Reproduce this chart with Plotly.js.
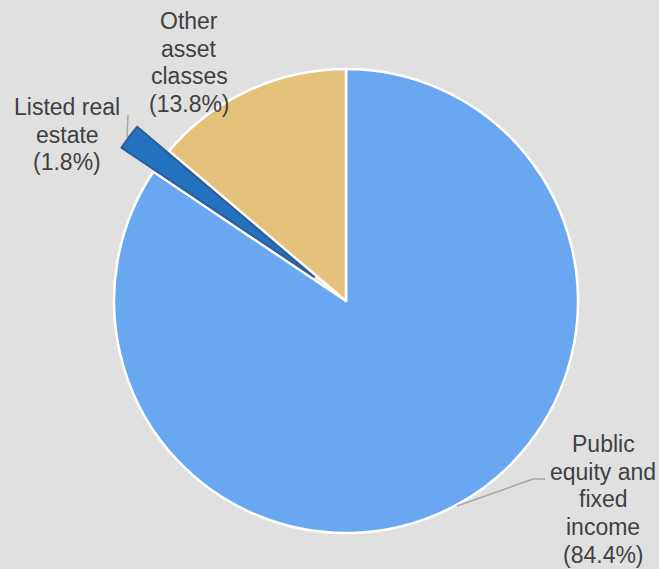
<!DOCTYPE html>
<html>
<head>
<meta charset="utf-8">
<script src="https://cdn.plot.ly/plotly-3.0.1.min.js"></script>
<style>html,body{margin:0;padding:0;background:#e0e0e0;}#chart{width:659px;height:569px;}</style>
</head>
<body>
<div id="chart"></div>
<script>
const categories = ["Public equity and fixed income", "Listed real estate", "Other asset classes"];
const labelLines = [["Public", "equity and", "fixed", "income"], ["Listed real", "estate"], ["Other", "asset", "classes"]];
const values = [84.4, 1.8, 13.8];
const sliceColors = ["#69a8f0", "#2372c0", "#e4c27c"];
const outlineColors = ["#ffffff", "#2f5b94", "#ffffff"];
const exploded = [false, true, false];

// geometry (pixels)
const W = 659, H = 569;
const cx = 346, cy = 301, R = 232;
const explodeDist = 40;

// label anchor: center x and first baseline y (pixels)
const labelPos = [
  {x: 603, y: 452},
  {x: 67, y: 115},
  {x: 189, y: 29}
];
const lineGap = 27.7;
const fontSize = 23;

function px(x){return x/W;}
function py(y){return 1 - y/H;}
function domainAt(x, y){
  return {x: [px(x - R), px(x + R)], y: [py(y + R), py(y - R)]};
}

const T = "rgba(0,0,0,0)";
// base pie: non-exploded slices
const baseTrace = {
  type: "pie", labels: categories, values: values, sort: false,
  direction: "clockwise", rotation: 0, textinfo: "none", hoverinfo: "skip",
  marker: {
    colors: sliceColors.map((c, i) => exploded[i] ? T : c),
    line: {color: outlineColors.map((c, i) => exploded[i] ? T : c), width: exploded.map(e => e ? 0 : 2.5)}
  },
  domain: domainAt(cx, cy), showlegend: false
};

// exploded slice: compute its mid angle from the data to offset its pie
const total = values.reduce((a, b) => a + b, 0);
const traces = [baseTrace];
let cum = 0;
values.forEach((v, i) => {
  const mid = (cum + v / 2) / total * 2 * Math.PI;
  cum += v;
  if (!exploded[i]) return;
  const ox = Math.sin(mid) * explodeDist, oy = -Math.cos(mid) * explodeDist;
  traces.push({
    type: "pie", labels: categories, values: values, sort: false,
    direction: "clockwise", rotation: 0, textinfo: "none", hoverinfo: "skip",
    marker: {
      colors: sliceColors.map((c, j) => j === i ? c : T),
      line: {color: outlineColors.map((c, j) => j === i ? c : T), width: values.map((_, j) => j === i ? 2 : 0)}
    },
    domain: domainAt(cx + ox, cy + oy), showlegend: false
  });
});

const annotations = [];
categories.forEach((c, i) => {
  const lines = labelLines[i].concat(["(" + values[i].toFixed(1) + "%)"]);
  lines.forEach((t, k) => {
    const base = labelPos[i].y + k * lineGap;
    annotations.push({
      xref: "paper", yref: "paper",
      x: px(labelPos[i].x), y: py(base - 0.346 * fontSize),
      xanchor: "center", yanchor: "middle",
      text: t, showarrow: false, align: "center", borderpad: 0,
      font: {family: "Liberation Sans, Arial, sans-serif", size: fontSize, color: "#404040"}
    });
  });
});

const lineStyle = {color: "#a6a6a6", width: 1.5};
const shapes = [
  {type: "line", xref: "paper", yref: "paper", x0: px(457), y0: py(506), x1: px(533), y1: py(479), line: lineStyle},
  {type: "line", xref: "paper", yref: "paper", x0: px(533), y0: py(479), x1: px(545), y1: py(479), line: lineStyle},
  {type: "line", xref: "paper", yref: "paper", x0: px(128), y0: py(115), x1: px(127), y1: py(137), line: lineStyle}
];

const layout = {
  width: W, height: H,
  margin: {l: 0, r: 0, t: 0, b: 0},
  paper_bgcolor: "#e0e0e0",
  plot_bgcolor: "#e0e0e0",
  annotations: annotations,
  shapes: shapes,
  showlegend: false
};

Plotly.newPlot("chart", traces, layout, {displayModeBar: false, staticPlot: true});
</script>
</body>
</html>
